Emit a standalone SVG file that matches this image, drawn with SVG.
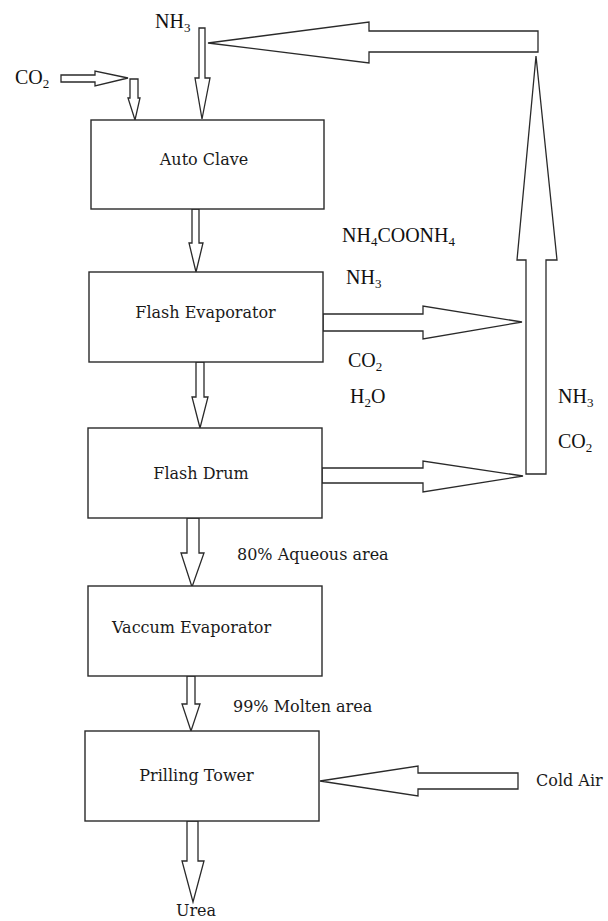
<svg xmlns="http://www.w3.org/2000/svg" width="608" height="921" viewBox="0 0 608 921">
<style>
.box{fill:#fff;stroke:#2a2a2a;stroke-width:1.4}
.arr{fill:#fff;stroke:#2a2a2a;stroke-width:1.3;stroke-linejoin:miter}
.lbl{font-family:"DejaVu Serif","Liberation Serif",serif;font-size:16px;fill:#1a1a1a}
.chem{font-family:"Liberation Serif","Times New Roman",serif;font-size:20px;fill:#111}
.sub{font-size:13px}
</style>
<rect width="608" height="921" fill="#fff"/>
<g id="connectors">
<polygon class="arr" points="61,75 95,75 95,71 128,78 95,86 95,82 61,82"/>
<polygon class="arr" points="130,79 138,79 138,98 140,98 135,120 128,98 130,98"/>
<polygon class="arr" points="199,28 205,28 205,78 210,78 202,119 195,78 199,78"/>
<polygon class="arr" points="538,31 369,31 369,22 208,43 369,63 369,52 538,52"/>
<polygon class="arr" points="526,474 546,474 546,260 557,260 536,56 517,260 526,260"/>
<polygon class="arr" points="323,314 423,314 423,306 522,322 423,339 423,331 323,331"/>
<polygon class="arr" points="322,468 423,468 423,461 523,476 423,492 423,483 322,483"/>
<polygon class="arr" points="518,773 418,773 418,766 320,781 418,796 418,789 518,789"/>
<polygon class="arr" points="192,209 199,209 199,243 203,243 196,272 189,243 192,243"/>
<polygon class="arr" points="196,362 204,362 204,397 208,397 200,428 192,397 196,397"/>
<polygon class="arr" points="187,518 199,518 199,553 204,553 192,587 181,553 187,553"/>
<polygon class="arr" points="187,676 195,676 195,704 200,704 191,731 182,704 187,704"/>
<polygon class="arr" points="187,821 198,821 198,861 204,861 193,902 182,861 187,861"/>
</g>
<g id="auto-clave"><rect class="box" x="91" y="120" width="233" height="89"/><text class="lbl" x="204" y="165" text-anchor="middle">Auto Clave</text></g>
<g id="flash-evaporator"><rect class="box" x="89" y="272" width="234" height="90"/><text class="lbl" x="205.5" y="318" text-anchor="middle">Flash Evaporator</text></g>
<g id="flash-drum"><rect class="box" x="88" y="428" width="234" height="90"/><text class="lbl" x="201" y="479" text-anchor="middle">Flash Drum</text></g>
<g id="vaccum-evaporator"><rect class="box" x="88" y="586" width="234" height="90"/><text class="lbl" x="112" y="633">Vaccum Evaporator</text></g>
<g id="prilling-tower"><rect class="box" x="85" y="731" width="234" height="90"/><text class="lbl" x="196.5" y="781" text-anchor="middle">Prilling Tower</text></g>
<g id="labels">
<text class="chem" x="155" y="28">NH<tspan class="sub" dy="4">3</tspan></text>
<text class="chem" x="15" y="84" font-size="21">CO<tspan class="sub" dy="4">2</tspan></text>
<text class="chem" x="342" y="242">NH<tspan class="sub" dy="4">4</tspan><tspan dy="-4">COONH</tspan><tspan class="sub" dy="4">4</tspan></text>
<text class="chem" x="346" y="284">NH<tspan class="sub" dy="4">3</tspan></text>
<text class="chem" x="348" y="367">CO<tspan class="sub" dy="4">2</tspan></text>
<text class="chem" x="350" y="403">H<tspan class="sub" dy="4">2</tspan><tspan dy="-4">O</tspan></text>
<text class="chem" x="558" y="403">NH<tspan class="sub" dy="4">3</tspan></text>
<text class="chem" x="558" y="448">CO<tspan class="sub" dy="4">2</tspan></text>
<text class="lbl" x="237" y="560">80% Aqueous area</text>
<text class="lbl" x="233" y="712">99% Molten area</text>
<text class="lbl" x="536" y="786">Cold Air</text>
<text class="lbl" x="196" y="916" text-anchor="middle">Urea</text>
</g>
</svg>
